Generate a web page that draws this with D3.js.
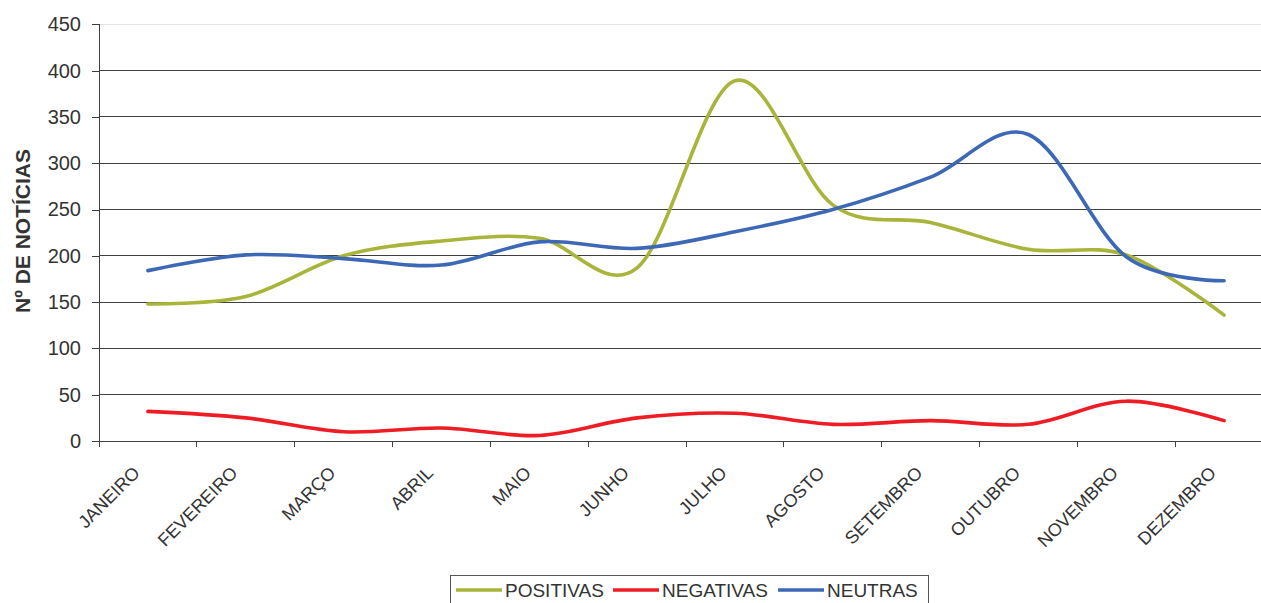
<!DOCTYPE html>
<html><head><meta charset="utf-8">
<script src="https://cdn.jsdelivr.net/npm/d3@7"></script>
<style>
html,body{margin:0;padding:0;background:#fff;}
svg{display:block;font-family:"Liberation Sans",Arial,sans-serif;}
</style></head>
<body>
<svg id="chart" width="1261" height="603"></svg>
<script>
const months = ["JANEIRO","FEVEREIRO","MARÇO","ABRIL","MAIO","JUNHO","JULHO","AGOSTO","SETEMBRO","OUTUBRO","NOVEMBRO","DEZEMBRO"];
const positivas = [148, 156, 200, 216, 219, 187, 389, 255, 236, 207, 201, 136];
const negativas = [32, 25, 10, 14, 6, 25, 30, 18, 22, 18, 43, 22];
const neutras   = [184, 201, 197, 190, 215, 208, 226, 250, 285, 331, 199, 173];
const yTicks = [0, 50, 100, 150, 200, 250, 300, 350, 400, 450];
const seriesNames = ["POSITIVAS", "NEGATIVAS", "NEUTRAS"];
const seriesColors = ["#A9B43A", "#EE1D25", "#3D68B6"];

const svg = d3.select("#chart");
const pLeft = 99, pRight = 1273, pTop = 24.3, pBottom = 441;

const x = d3.scaleBand().domain(months).range([pLeft, pRight]).padding(0);
const y = d3.scaleLinear().domain([0, 450]).range([pBottom, pTop]);

// gridlines
svg.append("g").selectAll("line").data(yTicks.filter(d => d > 0)).join("line")
  .attr("x1", pLeft).attr("x2", 1261)
  .attr("y1", d => y(d)).attr("y2", d => y(d))
  .attr("stroke", d => d === 450 ? "#e4e4e4" : "#3f3f3f").attr("stroke-width", 1)
  .attr("shape-rendering", "crispEdges");

// y axis
const yAxis = svg.append("g").attr("transform", `translate(${pLeft},0)`)
  .call(d3.axisLeft(y).tickValues(yTicks).tickSize(7).tickPadding(11));
yAxis.select(".domain").attr("stroke", "#3f3f3f").attr("shape-rendering", "crispEdges");
yAxis.selectAll(".tick line").attr("stroke", "#3f3f3f").attr("shape-rendering", "crispEdges");
yAxis.selectAll(".tick text").attr("font-size", 20).attr("fill", "#333")
  .attr("font-family", "Liberation Sans, Arial, sans-serif");

// x axis
const xAxis = svg.append("g").attr("transform", `translate(0,${pBottom})`);
xAxis.append("line").attr("x1", pLeft).attr("x2", 1261).attr("y1", 0).attr("y2", 0)
  .attr("stroke", "#3f3f3f").attr("shape-rendering", "crispEdges");
xAxis.selectAll("line.tk").data(months.concat(["_end"])).join("line").attr("class", "tk")
  .attr("x1", (d, i) => pLeft + i * x.bandwidth()).attr("x2", (d, i) => pLeft + i * x.bandwidth())
  .attr("y1", 0).attr("y2", 6).attr("stroke", "#3f3f3f").attr("shape-rendering", "crispEdges");
xAxis.selectAll("text").data(months).join("text")
  .attr("transform", d => `translate(${x(d) + x.bandwidth() / 2 - 7},${33}) rotate(-45)`)
  .attr("text-anchor", "end").attr("font-size", 18).attr("fill", "#333")
  .text(d => d);

// y axis title
svg.append("text")
  .attr("transform", `translate(30,231) rotate(-90)`)
  .attr("text-anchor", "middle").attr("font-size", 21).attr("font-weight", "bold").attr("fill", "#333")
  .text("Nº DE NOTÍCIAS");

// lines
const line = d3.line()
  .x((d, i) => x(months[i]) + x.bandwidth() / 2)
  .y(d => y(d))
  .curve(d3.curveCatmullRom.alpha(0));

const allSeries = [positivas, negativas, neutras];
svg.append("g").selectAll("path").data(allSeries).join("path")
  .attr("d", d => line(d))
  .attr("fill", "none")
  .attr("stroke", (d, i) => seriesColors[i])
  .attr("stroke-width", 3.6)
  .attr("stroke-linejoin", "round")
  .attr("stroke-linecap", "round");

// legend
const lg = svg.append("g");
lg.append("rect").attr("x", 450.5).attr("y", 575.5).attr("width", 478).attr("height", 40)
  .attr("fill", "#fff").attr("stroke", "#555").attr("stroke-width", 1);
const legendX = [456, 613, 778];
seriesNames.forEach((name, i) => {
  lg.append("line").attr("x1", legendX[i]).attr("x2", legendX[i] + 46)
    .attr("y1", 590).attr("y2", 590)
    .attr("stroke", seriesColors[i]).attr("stroke-width", 3.6);
  lg.append("text").attr("x", legendX[i] + 49).attr("y", 597)
    .attr("font-size", 19).attr("fill", "#333").text(name);
});
</script>
</body></html>
